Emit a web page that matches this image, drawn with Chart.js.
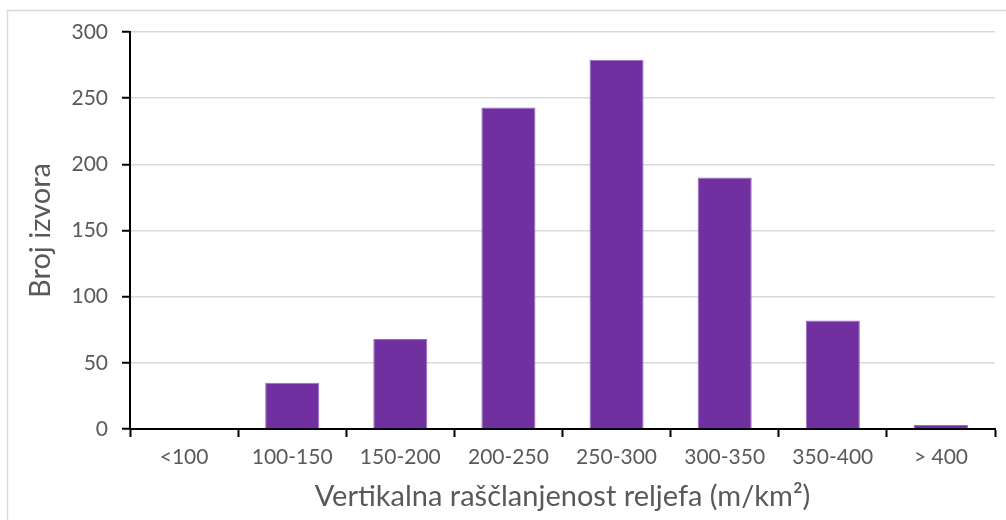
<!DOCTYPE html>
<html>
<head>
<meta charset="utf-8">
<script src="https://cdn.jsdelivr.net/npm/chart.js@4/dist/chart.umd.min.js"></script>
<style>
html,body{margin:0;padding:0;background:#fff;}
#wrap{width:1006px;height:520px;position:relative;}
</style>
</head>
<body>
<div id="wrap"><canvas id="c" width="1006" height="520"></canvas></div>
<script>
const categories = ['<100','100-150','150-200','200-250','250-300','300-350','350-400','> 400'];
const counts = [0, 35, 68, 243, 279, 190, 82, 3];
const yTicks = [0, 50, 100, 150, 200, 250, 300];
const xTitle = 'Vertikalna raščlanjenost reljefa (m/km²)';
const yTitle = 'Broj izvora';

const FONT = 'Lato, "Open Sans", sans-serif';
const GREY = '#595959';

const frame = {
  id: 'frame',
  beforeDraw(chart) {
    const ctx = chart.ctx;
    ctx.save();
    ctx.fillStyle = '#fff';
    ctx.fillRect(0, 0, chart.width, chart.height);
    ctx.strokeStyle = '#d9d9d9';
    ctx.lineWidth = 1.5;
    ctx.strokeRect(7.5, 10.5, 1200, 700);
    ctx.restore();
  }
};

new Chart(document.getElementById('c'), {
  type: 'bar',
  data: {
    labels: categories,
    datasets: [{
      data: counts,
      backgroundColor: '#7030a0',
      borderColor: '#9a6cc2',
      borderWidth: 1,
      barPercentage: 0.5,
      categoryPercentage: 1.0
    }]
  },
  options: {
    responsive: false,
    animation: false,
    layout: { padding: { top: 32, right: 11, left: 0, bottom: 0 } },
    plugins: { legend: { display: false }, tooltip: { enabled: false } },
    scales: {
      x: {
        grid: { offset: true, drawOnChartArea: false, drawTicks: true, tickLength: 8, tickColor: '#000', tickWidth: 2 },
        border: { color: '#000', width: 2 },
        ticks: { color: GREY, font: { family: FONT, size: 21 }, padding: 8, maxRotation: 0 },
        title: { display: true, text: xTitle, color: GREY, font: { family: FONT, size: 29 }, padding: { top: 4, bottom: 6 } },
        afterFit(s) { s.height = 91; }
      },
      y: {
        min: 0, max: 300,
        afterBuildTicks(s) { s.ticks = yTicks.map(v => ({ value: v })); },
        grid: { color: '#d9d9d9', lineWidth: 1.5, drawTicks: true, tickLength: 8, tickColor: '#000', tickWidth: 2 },
        border: { color: '#000', width: 2 },
        ticks: { color: GREY, font: { family: FONT, size: 21 }, padding: 14 },
        title: { display: true, text: yTitle, color: GREY, font: { family: FONT, size: 29 }, padding: { top: 23, bottom: 0 } },
        afterFit(s) { s.width = 130; }
      }
    }
  },
  plugins: [frame]
});
</script>
</body>
</html>
